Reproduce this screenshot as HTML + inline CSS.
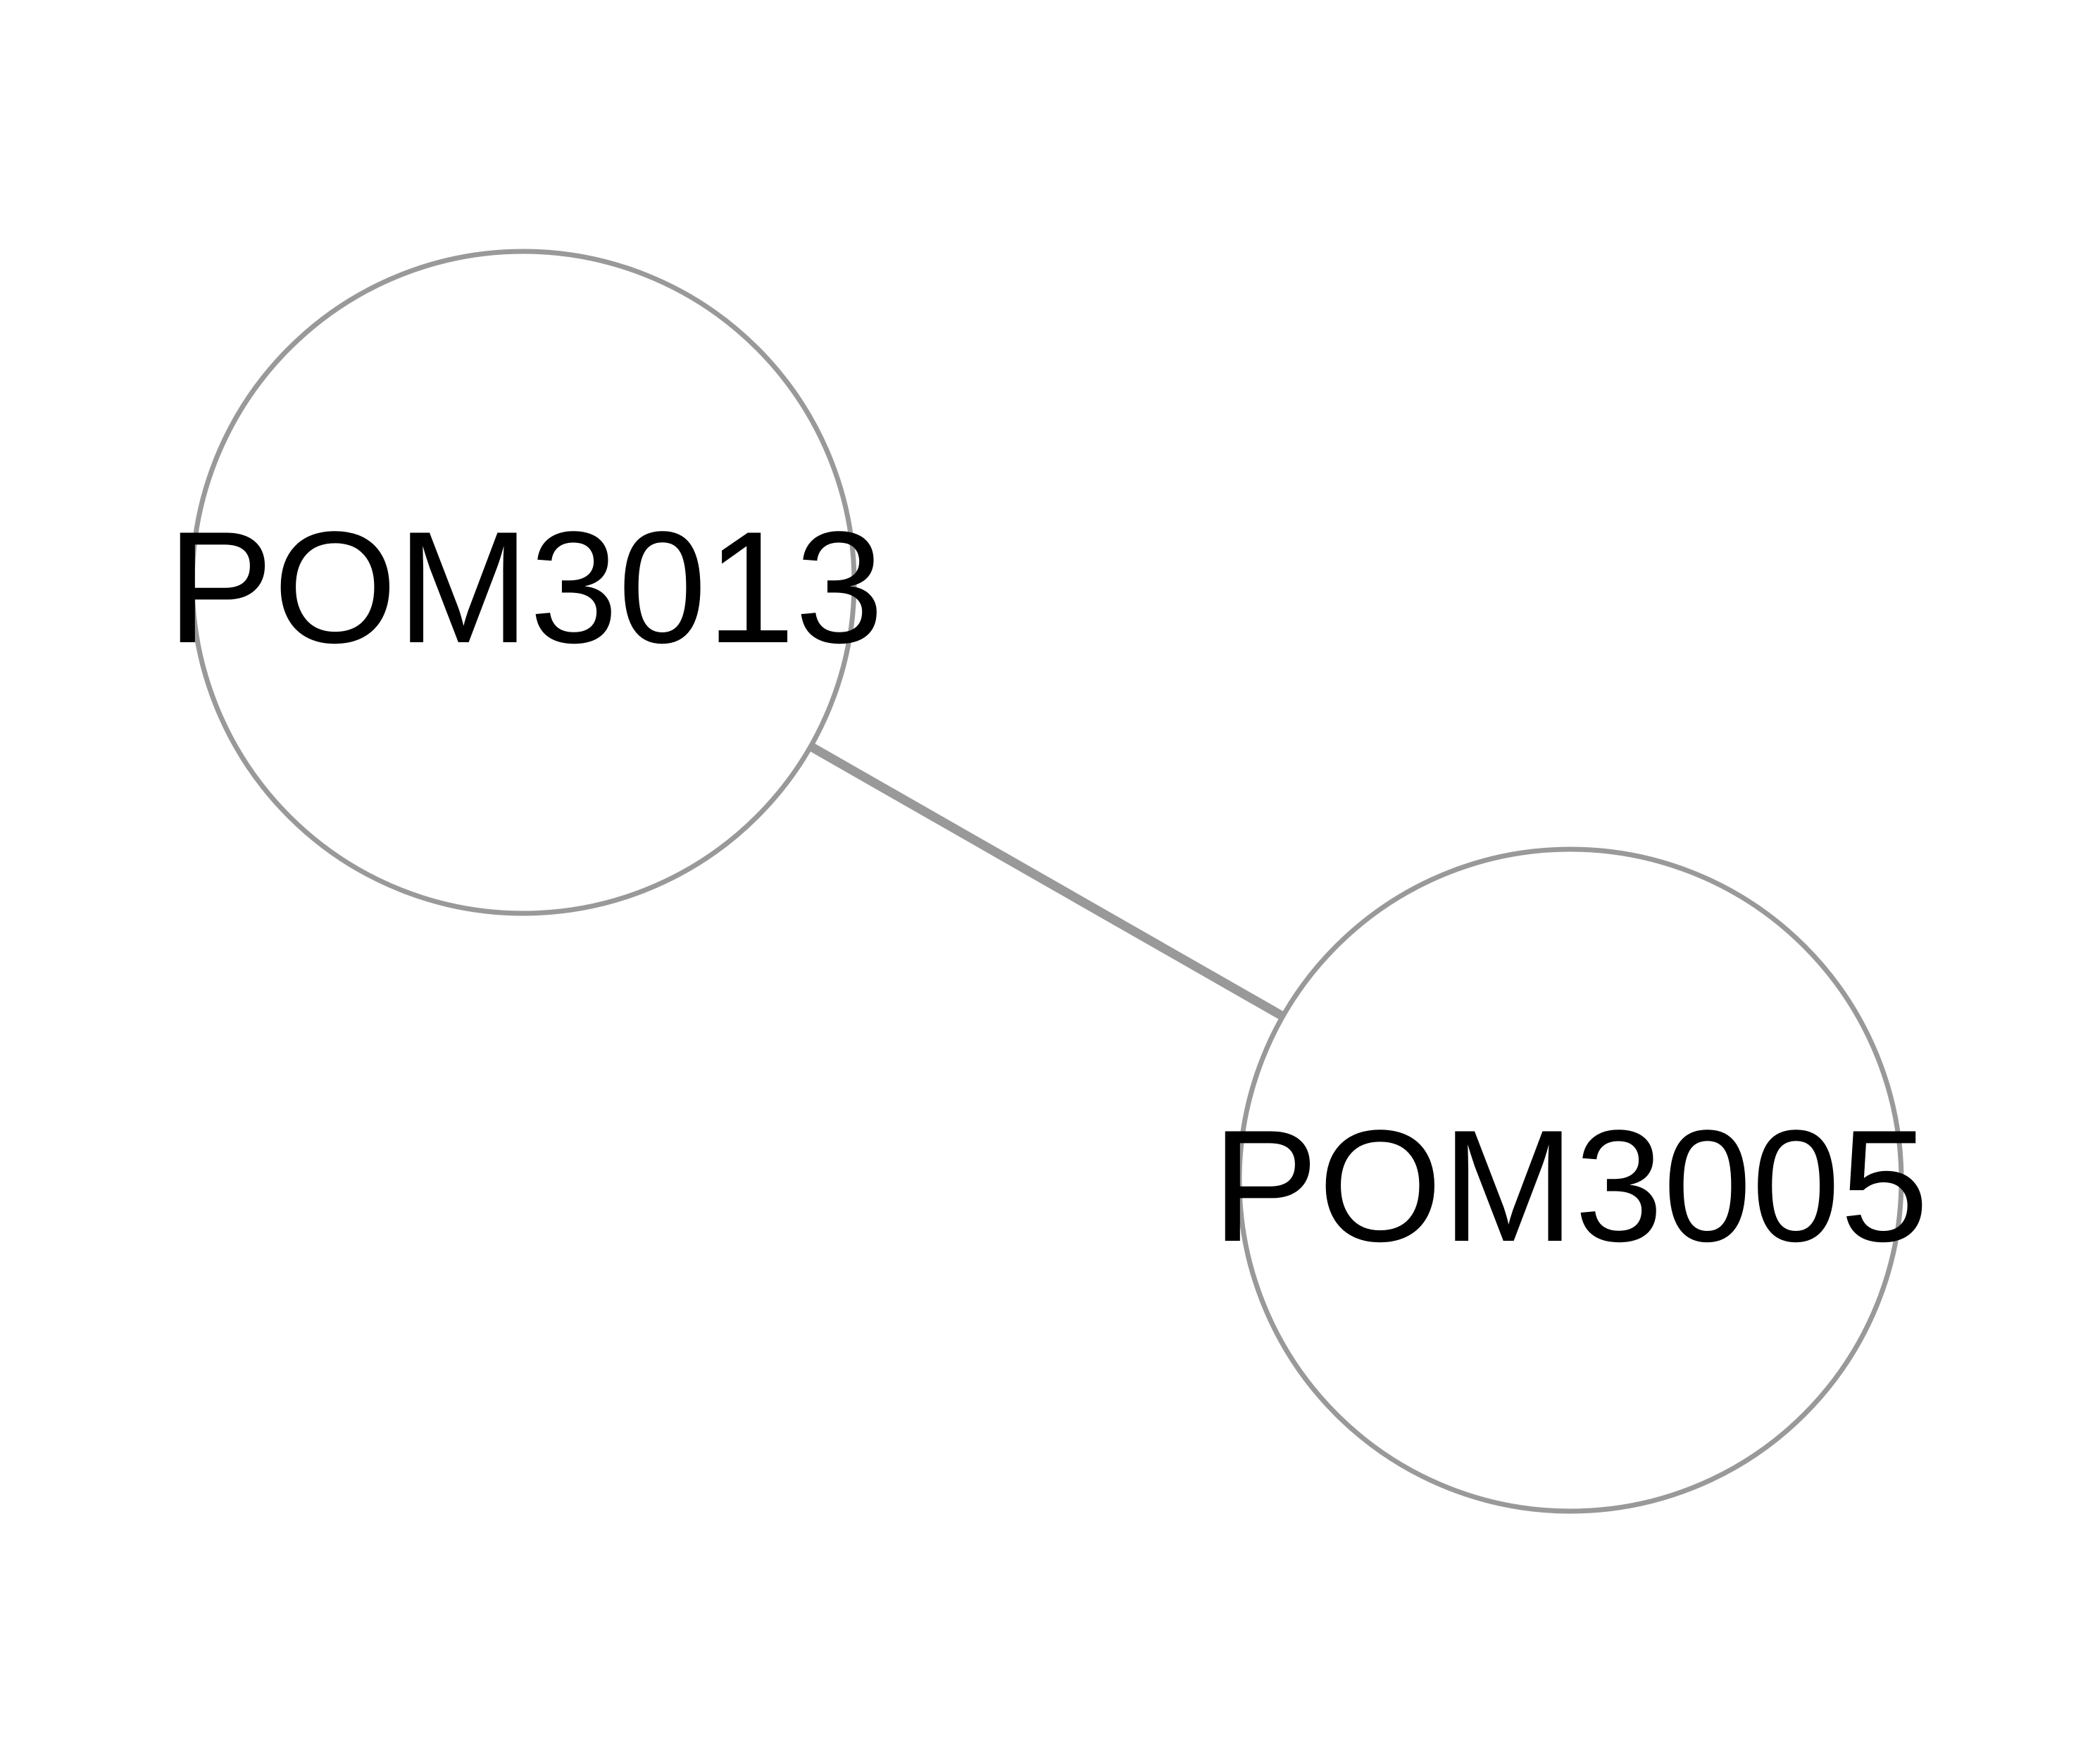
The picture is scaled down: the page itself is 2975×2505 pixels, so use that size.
<!DOCTYPE html>
<html><head><style>html,body{margin:0;padding:0;background:#fff;}svg{display:block}</style></head>
<body>
<svg width="2975" height="2505" viewBox="0 0 2975 2505" xmlns="http://www.w3.org/2000/svg">
<rect width="2975" height="2505" fill="#fff"/>
<line x1="1153" y1="1061" x2="1823" y2="1444" stroke="#999" stroke-width="13"/>
<circle cx="743" cy="827" r="470" fill="none" stroke="#999" stroke-width="7"/>
<circle cx="2230" cy="1676" r="470" fill="none" stroke="#999" stroke-width="7"/>
<text x="746" y="912" font-family="Liberation Sans, Arial, sans-serif" font-size="226" text-anchor="middle" fill="#000">POM3013</text>
<text x="2230" y="1762" font-family="Liberation Sans, Arial, sans-serif" font-size="226" text-anchor="middle" fill="#000">POM3005</text>
</svg>
</body></html>
